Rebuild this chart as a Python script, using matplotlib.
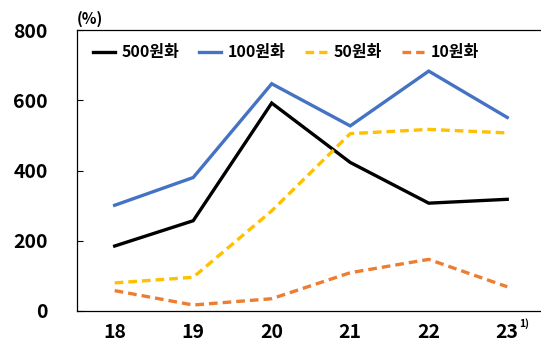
import matplotlib
matplotlib.use("Agg")
import matplotlib.pyplot as plt

plt.rcParams['font.family'] = ['Noto Sans CJK KR', 'DejaVu Sans']

years = ["18", "19", "20", "21", "22", "23"]
coin_500 = [185, 257, 592, 423, 307, 318]
coin_100 = [301, 380, 647, 527, 683, 551]
coin_50 = [80, 96, 285, 505, 517, 507]
coin_10 = [58, 17, 35, 109, 147, 69]
y_ticks = [0, 200, 400, 600, 800]

x = list(range(len(years)))

fig = plt.figure(figsize=(5.41, 3.51), dpi=100)
ax = fig.add_axes([77 / 541, 40 / 351, 1 - 77 / 541, 281 / 351])

lw = 2.4
ax.plot(x, coin_500, color='#000000', lw=lw, label='500원화', solid_joinstyle='miter')
ax.plot(x, coin_100, color='#4472C4', lw=lw, label='100원화', solid_joinstyle='miter')
ax.plot(x, coin_50, color='#FFC000', lw=lw, label='50원화', dashes=(2.6, 1.5))
ax.plot(x, coin_10, color='#ED7D31', lw=lw, label='10원화', dashes=(2.6, 1.5))

ax.set_xlim(-0.48, 5.43)
ax.set_ylim(0, 800)
ax.set_yticks(y_ticks)
ax.set_yticklabels([str(v) for v in y_ticks], fontsize=14, fontweight='bold')
ax.set_xticks(x)
ax.set_xticklabels(years, fontsize=14, fontweight='bold')
ax.tick_params(axis='y', direction='in', length=4.3, width=0.8, pad=21)
ax.tick_params(axis='x', length=0, pad=8.5)

for side in ('left', 'top', 'bottom'):
    ax.spines[side].set_linewidth(0.9)
ax.spines['right'].set_visible(False)

# footnote marker on the last year label
ax.annotate('1)', xy=(x[-1], 0), xycoords=('data', 'axes fraction'),
            xytext=(8.5, -5), textcoords='offset points',
            fontsize=7.5, fontweight='bold', ha='left', va='top')

ax.text(0, 1.012, '(%)', transform=ax.transAxes, fontsize=11,
        fontweight='bold', ha='left', va='bottom')

leg = ax.legend(loc='center left', bbox_to_anchor=(0.034, 0.92), ncol=4,
                frameon=False, borderpad=0, borderaxespad=0,
                handlelength=1.4, handletextpad=0.42, columnspacing=1.2,
                prop={'size': 11.5, 'weight': 'bold'})

fig.savefig('out.png', dpi=100)
